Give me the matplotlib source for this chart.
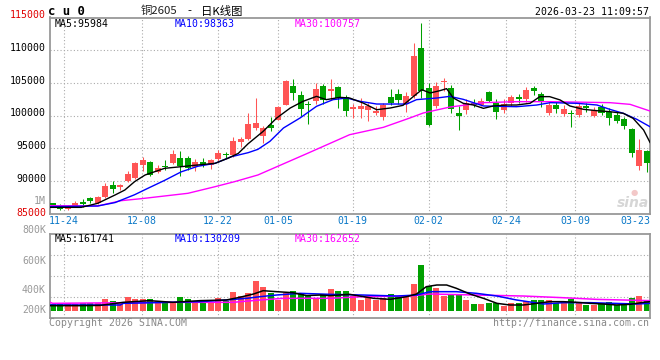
import matplotlib
matplotlib.use('Agg')
import matplotlib.pyplot as plt
from matplotlib.transforms import blended_transform_factory

# --- Daten ---
opens = [86600, 86200, 85700, 86100, 86800, 87400, 86600, 87500, 89400, 89100,
         90050, 90400, 92400, 92950, 91300, 92300, 92800, 93550, 93550, 92200,
         92900, 92450, 93300, 94100, 94000, 95900, 96400, 98100, 96830, 98620,
         99380, 101670, 104470, 103100, 101770, 102180, 104470, 103710, 104370, 102790,
         101060, 101060, 100900, 100400, 99740, 102840, 103300, 101820, 102940, 110340,
         104220, 101420, 105070, 104220, 100400, 100860, 101880, 101620, 103660, 101880,
         100860, 101880, 102790, 102490, 104170, 103250, 100350, 101620, 100240, 100450,
         100090, 101470, 99990, 101360, 100600, 100090, 99430, 97900, 92300, 94590]
highs = [86700, 86500, 86300, 87000, 87300, 87500, 87700, 89700, 90000, 89600,
         91500, 92950, 93600, 93050, 92450, 93200, 94700, 94600, 93800, 93350,
         93450, 93400, 94800, 94500, 96800, 96800, 100350, 102690, 98360, 99790,
         101420, 105500, 105600, 103810, 102280, 104980, 104880, 105600, 104470, 103200,
         101770, 102690, 101920, 101420, 101920, 104070, 104070, 103610, 111100, 114160,
         104980, 105090, 105750, 104730, 101500, 102490, 102490, 102640, 103810, 102490,
         102490, 103150, 103300, 104320, 104530, 103660, 102280, 102130, 101620, 100860,
         101880, 101880, 101270, 101780, 101110, 100600, 99840, 98050, 96420, 94740]
lows = [86000, 85600, 85600, 86000, 86100, 86700, 86500, 87350, 88200, 88600,
        89900, 90300, 91500, 90750, 91200, 91700, 92550, 90750, 91700, 91500,
        92100, 91800, 93100, 93500, 93700, 95150, 96200, 97850, 95810, 97700,
        99380, 101570, 102440, 99890, 98710, 101770, 101820, 102440, 101160, 99890,
        99630, 99630, 99230, 100140, 99380, 101570, 101770, 100550, 102690, 102690,
        98360, 101160, 103810, 100400, 97800, 100240, 101270, 101470, 102130, 99480,
        100450, 101470, 101980, 102130, 103150, 101270, 100090, 100350, 99940, 98310,
        99840, 100600, 99840, 100090, 98560, 98820, 97900, 93620, 91680, 91430]
closes = [86100, 85700, 86200, 86700, 86500, 87000, 87500, 89300, 88800, 89400,
          91100, 92800, 93150, 90900, 91950, 92100, 94150, 92300, 91950, 92900,
          92550, 93200, 94300, 94000, 96100, 96400, 98700, 98870, 98100, 98100,
          101310, 105340, 103460, 101060, 101570, 104120, 102440, 104120, 102690, 100750,
          101260, 101420, 101420, 100750, 101670, 101920, 102340, 102940, 109060, 103710,
          98510, 104470, 105240, 101060, 99900, 101980, 101620, 102230, 102280, 100600,
          101720, 102900, 102590, 103910, 103810, 102030, 101620, 101010, 100960, 100300,
          101470, 101110, 100860, 100350, 99580, 99230, 98410, 94330, 94740, 92700]
volumes = [297600, 304700, 304700, 297600, 304700, 304700, 304700, 335700, 321400, 316700,
           352400, 335700, 335700, 335700, 323800, 316700, 316700, 352400, 335700, 316700,
           316700, 316700, 345200, 321400, 388100, 359500, 380900, 464300, 423800, 380900,
           328600, 380900, 395200, 376200, 364300, 345200, 369000, 405000, 392800, 392800,
           357000, 328600, 352400, 328600, 340500, 371400, 352400, 352400, 442900, 578600,
           428600, 411900, 357000, 371400, 364300, 328600, 300000, 300000, 309500, 304700,
           285700, 304700, 304700, 321400, 328600, 328600, 328600, 309500, 316700, 335700,
           309500, 292900, 292900, 304700, 311900, 292900, 304700, 340500, 357000, 328600]

ma5_x = [-0.35, 3.8, 6, 8.3, 9.6, 10.9, 12.3, 13.6, 14.9, 17.1, 19.3, 21.6, 23.3, 24.7, 26,
         28, 29.8, 31.6, 33.3, 35.1, 36.4, 38.2, 39.5, 41.3, 43.1, 44.9, 46.6, 48, 49.1, 50.2,
         51.5, 52.4, 53.3, 54.6, 55.95, 57.3, 58.6, 60.4, 61.7, 63.5, 64.8, 66.1, 67.5, 68.8,
         70.6, 72.4, 74.1, 75.9, 77.2, 78.6, 79.45]
ma5_y = [85970, 85970, 86590, 87860, 88620, 89900, 90920, 91430, 91940, 92190, 92450, 92700,
         93470, 94230, 95700, 97590, 99630, 101160, 102180, 102940, 102440, 102790, 102690,
         101920, 100900, 101160, 101570, 102940, 103960, 103460, 103810, 104120, 102690,
         101880, 101620, 101110, 101470, 101620, 101620, 101880, 102900, 102900, 102390,
         101470, 100960, 100750, 100600, 100350, 99580, 97800, 95900]
ma10_x = [-0.35, 6, 8.3, 10.9, 12.7, 14.9, 17.1, 19.3, 21.6, 23.8, 26, 27.3, 28.9, 30.7, 32.9,
          35.1, 37.3, 39.1, 40.9, 43.1, 47.1, 48.4, 51.1, 52.8, 54.6, 57.3, 61.7, 64.4, 66.2,
          69.7, 72.4, 74.1, 75.9, 77.7, 79.45]
ma10_y = [86080, 86180, 86700, 87900, 88900, 90100, 91400, 92250, 92700, 93720, 94330, 94840,
          96065, 98105, 99630, 101420, 102440, 102690, 102180, 101770, 101770, 102440, 102690,
          102940, 102490, 101470, 101360, 101620, 101980, 101880, 101620, 100960, 100350,
          99430, 98300]
ma30_x = [-0.35, 6, 9.1, 11.8, 14.9, 18, 21.6, 24.2, 27.3, 34, 39.5, 44, 47.5, 49.3, 52.8,
          57.3, 61.7, 66.2, 71.5, 74.1, 76.8, 79.45]
ma30_y = [86230, 86180, 86990, 87300, 87710, 88120, 89130, 89900, 90920, 94280, 97080, 98210,
          99630, 100400, 101300, 101980, 102130, 102130, 102030, 101980, 101720, 100700]

vma5_x = [-0.35, 3.5, 6.3, 9.4, 12.9, 16, 19.6, 23.1, 24.9, 26.7, 28, 29.8, 31.9, 33.8, 35.5,
          36.9, 39.5, 42.7, 44.9, 47.1, 48.4, 49.7, 51.1, 52.4, 53.7, 55.5, 57.3, 59.1, 60.8,
          62.6, 64.4, 66.1, 67.9, 69.7, 71.5, 73.2, 75, 76.8, 78.6, 79.45]
vma5_y = [288000, 288000, 290000, 312000, 324000, 312000, 324000, 328600, 348000, 371000,
          395000, 388000, 381000, 360000, 364000, 359500, 369000, 340500, 333300, 352400,
          371400, 423800, 435700, 435700, 412000, 371400, 340500, 304700, 292900, 292900,
          304700, 316700, 316700, 312000, 304700, 300000, 292900, 297600, 312000, 316700]
vma10_x = [-0.35, 9, 9.4, 19.6, 23.1, 25.8, 27.6, 29.8, 32.9, 36.9, 41.3, 45.8, 48.4, 50.2,
           53.7, 56.4, 59.1, 61.7, 65.3, 67.9, 71.5, 74.6, 77.7, 79.45]
vma10_y = [292900, 292900, 304700, 316700, 328600, 340500, 352400, 364300, 376200, 369000,
           364000, 357000, 364000, 388000, 388000, 376000, 357000, 328600, 300000, 309500,
           309500, 304700, 300000, 304700]
vma30_x = [-0.35, 0, 15.2, 24, 27.6, 30.7, 36.9, 41.3, 47.5, 50.2, 56.4, 62.6, 67.9, 72.4,
           75.9, 79.45]
vma30_y = [312000, 304700, 312000, 312000, 328600, 340500, 340500, 352400, 357000, 371400,
           364000, 357000, 345000, 333000, 328600, 324000]

date_labels = ['11-24', '12-08', '12-22', '01-05', '01-19', '02-02', '02-24', '03-09', '03-23']
date_pos = [1.5, 11.9, 22.0, 30.0, 39.9, 50.0, 60.3, 69.5, 79.45]
price_ticks = [110000, 105000, 100000, 95000, 90000]

# --- Stil ---
RED = '#ff5555'
GREEN = '#00a000'
GRID = '#aaaaaa'
FRAME = '#999999'
MONO = 'DejaVu Sans Mono'
FS = 7.1

fig = plt.figure(figsize=(6.6, 3.6), dpi=100)
W, H = 660.0, 360.0

def fx(px):
    return px / W

def fy(py):
    return 1 - py / H

ax = fig.add_axes([fx(50), fy(213.7), fx(650) - fx(50), fy(17.5) - fy(213.7)])
axv = fig.add_axes([fx(50), fy(318), fx(650) - fx(50), fy(234) - fy(318)])

for a in (ax, axv):
    a.set_xlim(-0.35, 79.45)
    a.set_xticks([])
    a.set_yticks([])
    for s in a.spines.values():
        s.set_color(FRAME)
        s.set_linewidth(1.3)
    for p in date_pos[:-1]:
        a.axvline(p, color=GRID, lw=0.8, ls=(0, (1, 2)), zorder=0)

ax.set_ylim(85000, 115000)
axv.set_ylim(200000, 800000)

for v in price_ticks:
    ax.axhline(v, color=GRID, lw=0.8, ls=(0, (1, 2)), zorder=0)
for v in [350000, 500000, 650000]:
    axv.axhline(v, color=GRID, lw=0.8, ls=(0, (1, 2)), zorder=0)

# Kerzen
for i in range(len(opens)):
    o, h, l, c = opens[i], highs[i], lows[i], closes[i]
    col = RED if c >= o else GREEN
    ax.vlines(i, l, h, color=col, lw=0.75, zorder=2)
    body = max(abs(c - o), 160)
    ax.bar(i, body, bottom=min(o, c), width=0.8, color=col, lw=0, zorder=3)
    axv.bar(i, volumes[i] - 250000, bottom=250000, width=0.8, color=col, lw=0, zorder=2)

ax.plot(ma30_x, ma30_y, color='#ff00ff', lw=1.0, zorder=4)
ax.plot(ma10_x, ma10_y, color='#0000ff', lw=1.0, zorder=4)
ax.plot(ma5_x, ma5_y, color='black', lw=1.0, zorder=5)

axv.plot(vma30_x, vma30_y, color='#ff00ff', lw=1.1, zorder=4)
axv.plot(vma10_x, vma10_y, color='#0000ff', lw=1.1, zorder=4)
axv.plot(vma5_x, vma5_y, color='black', lw=1.1, zorder=5)

# Achsenbeschriftungen (links)
tr = blended_transform_factory(fig.transFigure, ax.transData)
for v in price_ticks:
    ax.text(fx(46), v + 350, str(v), transform=tr, ha='right', va='center',
            fontsize=FS, family=MONO, color='black')
fig.text(fx(46), fy(15.5), '115000', ha='right', va='center', fontsize=FS, family=MONO, color='#e00000')
fig.text(fx(46), fy(212.5), '85000', ha='right', va='center', fontsize=FS, family=MONO, color='#e00000')
fig.text(fx(46), fy(200.5), '1M', ha='right', va='center', fontsize=FS, family=MONO, color='#999999')

for lab, py in [('800K', 230.5), ('600K', 260.5), ('400K', 290), ('200K', 310)]:
    fig.text(fx(46), fy(py), lab, ha='right', va='center', fontsize=FS, family=MONO, color='#999999')

# Datumsachse
trx = blended_transform_factory(ax.transData, fig.transFigure)
for lab, p in zip(date_labels, date_pos):
    ha = 'right' if lab == date_labels[-1] else 'center'
    ax.text(p, fy(221.5), lab, transform=trx, ha=ha, va='center',
            fontsize=FS, family=MONO, color='#0a78c8')

# Kopfzeile
fig.text(fx(48), fy(11.5), 'c u 0', ha='left', va='center', fontsize=8.8,
         family=MONO, fontweight='bold', color='black')
cjk = ['Noto Sans CJK SC', 'DejaVu Sans']
fig.text(fx(141), fy(11), '铜2605', ha='left', va='center', fontsize=8.2, family=cjk, color='#222222')
fig.text(fx(187), fy(11), '-', ha='left', va='center', fontsize=8.2, family=cjk, color='black')
fig.text(fx(201), fy(11), '日K线图', ha='left', va='center', fontsize=8.2, family=cjk, color='black')
fig.text(fx(649), fy(12), '2026-03-23 11:09:57', ha='right', va='center', fontsize=FS,
         family=MONO, color='black')

# Legenden
for txt, px, col in [('MA5:95984', 54.5, 'black'), ('MA10:98363', 174.5, '#0000ff'),
                     ('MA30:100757', 295, '#ff00ff')]:
    fig.text(fx(px), fy(24), txt, ha='left', va='center', fontsize=FS, family=MONO, color=col)
for txt, px, col in [('MA5:161741', 54.5, 'black'), ('MA10:130209', 174.5, '#0000ff'),
                     ('MA30:162652', 295, '#ff00ff')]:
    fig.text(fx(px), fy(239), txt, ha='left', va='center', fontsize=FS, family=MONO, color=col)

# Fusszeile
fig.text(fx(49), fy(323), 'Copyright 2026 SINA.COM', ha='left', va='center', fontsize=FS,
         family=MONO, color='#888888')
fig.text(fx(649), fy(323), 'http://finance.sina.com.cn', ha='right', va='center', fontsize=FS,
         family=MONO, color='#888888')

# Wasserzeichen
fig.text(fx(633), fy(203), 'sina', ha='center', va='center', fontsize=10, style='italic',
         fontweight='bold', color='#d6d6d6', family='DejaVu Sans')
fig.text(fx(634), fy(192), '●', ha='center', va='center', fontsize=6, color='#f3c8c8',
         family='DejaVu Sans')

fig.savefig('out.png', dpi=100)
